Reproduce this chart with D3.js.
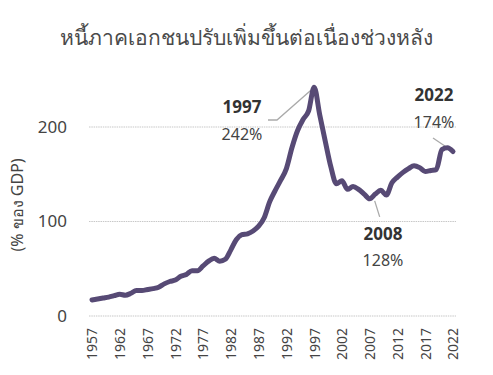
<!DOCTYPE html>
<html>
<head>
<meta charset="utf-8">
<script src="https://cdn.jsdelivr.net/npm/d3@7"></script>
<style>
  html, body { margin: 0; padding: 0; background: #fff; }
  svg { display: block; font-family: "Noto Sans", "Lato", sans-serif; }
</style>
</head>
<body>
<svg id="chart" width="493" height="375"></svg>
<script>
const title = "หนี้ภาคเอกชนปรับเพิ่มขึ้นต่อเนื่องช่วงหลัง";
const yAxisLabel = "(% ของ GDP)";
const years = d3.range(1957, 2023);
const debt = [
  17, 18, 19, 20, 21.5, 23, 22, 24, 27, 27,
  28, 29, 30.5, 34, 36.5, 38, 42, 44, 48, 48,
  53, 58, 61, 58, 60, 70, 81, 86, 87, 90,
  95, 104, 121, 133, 144, 156, 178, 196, 208, 217,
  242, 213, 185, 158, 140, 143, 134, 137, 134, 129,
  124, 129, 133, 128, 141, 147, 152, 156, 159, 157,
  153, 154, 155, 176, 178, 174
];
const yTicks = [0, 100, 200];
const xTicks = d3.range(1957, 2023, 5);
const annotations = [
  { year: 1997, label: "1997", value: "242%" },
  { year: 2008, label: "2008", value: "128%" },
  { year: 2022, label: "2022", value: "174%" }
];

const svg = d3.select("#chart");
const x = d3.scaleLinear().domain([1957, 2022]).range([92, 453]);
const y = d3.scaleLinear().domain([0, 200]).range([316, 127]);

// title
svg.append("text")
  .attr("x", 246).attr("y", 45)
  .attr("text-anchor", "middle")
  .attr("font-size", 21).attr("font-weight", 400)
  .attr("fill", "#4a4a4a")
  .text(title);

// gridlines
svg.append("g").selectAll("line").data(yTicks).join("line")
  .attr("x1", 89).attr("x2", 456)
  .attr("y1", d => y(d)).attr("y2", d => y(d))
  .attr("stroke", "#c8c8c8").attr("stroke-width", 1.2)
  .attr("stroke-dasharray", "1.5,0.8");

// y axis
const yAxis = svg.append("g").attr("transform", "translate(67,0)")
  .call(d3.axisLeft(y).tickValues(yTicks).tickSize(0).tickPadding(0));
yAxis.select(".domain").remove();
yAxis.selectAll("text")
  .attr("font-size", 17).attr("font-weight", 400).attr("fill", "#444")
  .attr("font-family", "Noto Sans, sans-serif");

svg.append("text")
  .attr("transform", "translate(23,205) rotate(-90)")
  .attr("text-anchor", "middle")
  .attr("font-size", 16).attr("font-weight", 400).attr("fill", "#444")
  .text(yAxisLabel);

// x axis
const xAxis = svg.append("g").attr("transform", "translate(0,328)")
  .call(d3.axisBottom(x).tickValues(xTicks).tickFormat(d3.format("d")).tickSize(0).tickPadding(0));
xAxis.select(".domain").remove();
xAxis.selectAll("text")
  .attr("transform", "rotate(-90)")
  .attr("text-anchor", "end")
  .attr("x", 0).attr("y", 0).attr("dy", "0.35em")
  .attr("font-size", 14).attr("font-weight", 400).attr("fill", "#444")
  .attr("font-family", "Noto Sans, sans-serif");

// annotation leaders
const leaderColor = "#aaaaaa";
const pk = debt[years.indexOf(1997)];
svg.append("path")
  .attr("d", `M268,120 L277,120 L${x(1997) - 1},${y(pk) + 1}`)
  .attr("fill", "none").attr("stroke", leaderColor).attr("stroke-width", 1.3);
const v08 = debt[years.indexOf(2007)];
svg.append("path")
  .attr("d", `M${x(2007) + 5},${y(v08) + 2} L${x(2007) + 10},${y(v08) + 18}`)
  .attr("fill", "none").attr("stroke", leaderColor).attr("stroke-width", 1.3);
const v22 = debt[years.indexOf(2022)];
svg.append("path")
  .attr("d", `M433,138 L${x(2022)},${y(v22)}`)
  .attr("fill", "none").attr("stroke", leaderColor).attr("stroke-width", 1.3);

// line
const line = d3.line()
  .x((d, i) => x(years[i]))
  .y(d => y(d))
  .curve(d3.curveMonotoneX);
svg.append("path")
  .datum(debt)
  .attr("d", line)
  .attr("fill", "none")
  .attr("stroke", "#574a75")
  .attr("stroke-width", 5)
  .attr("stroke-linejoin", "round")
  .attr("stroke-linecap", "round");

// annotation texts
const annPos = { 1997: [242, 113, 140], 2008: [383, 240, 266], 2022: [434, 101, 128] };
annotations.forEach(a => {
  const p = annPos[a.year];
  svg.append("text").attr("x", p[0]).attr("y", p[1])
    .attr("text-anchor", "middle").attr("font-size", 17).attr("font-weight", 700)
    .attr("fill", "#333").text(a.label);
  svg.append("text").attr("x", p[0]).attr("y", p[2])
    .attr("text-anchor", "middle").attr("font-size", 16).attr("font-weight", 400)
    .attr("fill", "#444").text(a.value);
});
</script>
</body>
</html>
